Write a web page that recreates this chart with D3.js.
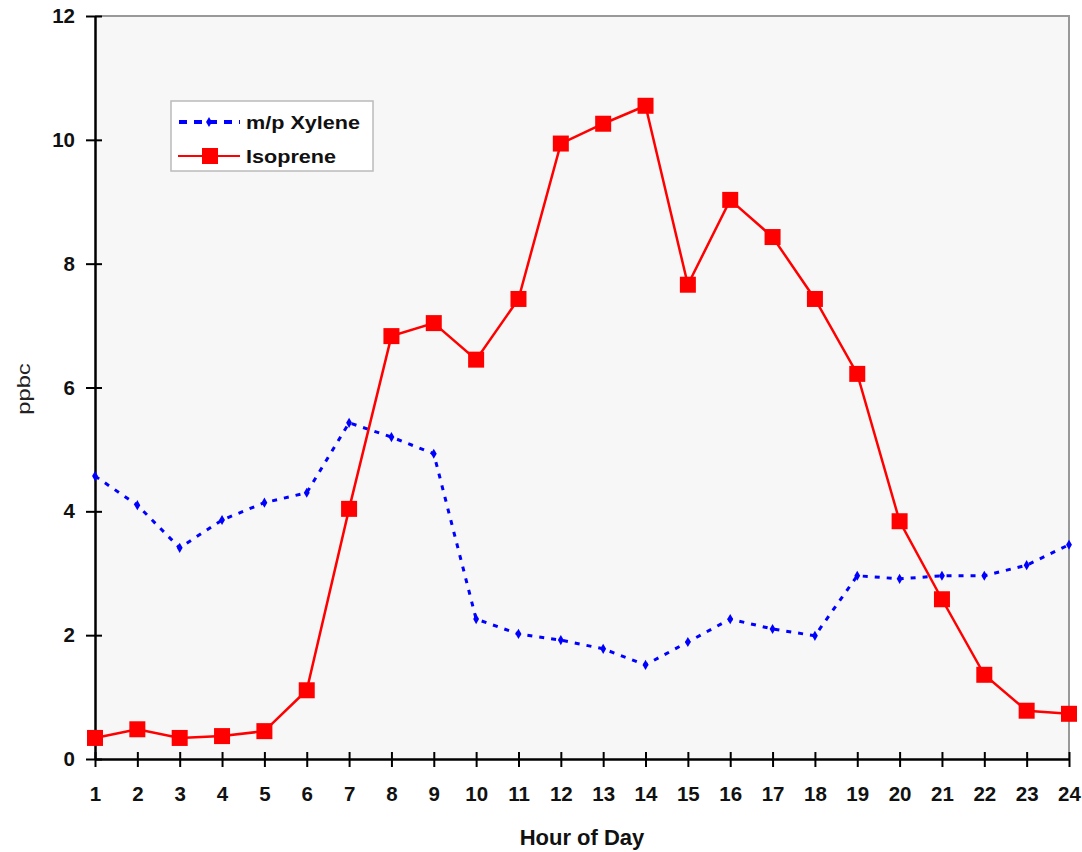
<!DOCTYPE html>
<html><head><meta charset="utf-8">
<script src="https://cdn.jsdelivr.net/npm/d3@7"></script>
<style>body{margin:0;background:#fff;}svg{display:block;font-family:"Liberation Sans",Arial,sans-serif;}</style>
</head><body>
<svg id="c" width="1082" height="852"></svg>
<script>
const hours = [1,2,3,4,5,6,7,8,9,10,11,12,13,14,15,16,17,18,19,20,21,22,23,24];
const xylene = [4.57,4.10,3.41,3.86,4.14,4.30,5.43,5.20,4.93,2.26,2.02,1.92,1.78,1.52,1.89,2.26,2.10,1.99,2.96,2.91,2.96,2.96,3.13,3.46];
const isoprene = [0.34,0.48,0.34,0.37,0.45,1.11,4.04,6.83,7.04,6.45,7.43,9.94,10.26,10.55,7.66,9.03,8.43,7.43,6.22,3.84,2.58,1.36,0.78,0.73];
const yTicks = [0,2,4,6,8,10,12];
const seriesNames = ["m/p Xylene","Isoprene"];

const svg = d3.select("#c");
const L=95, R=1069, T=16, B=759;
const x = d3.scaleLinear().domain([1,24]).range([L,R]);
const y = d3.scaleLinear().domain([0,12]).range([B,T]);

// plot background
svg.append("rect").attr("x",L).attr("y",T).attr("width",R-L).attr("height",B-T).attr("fill","#f7f7f7");
// top and right border
svg.append("path").attr("d",`M${L},${T}H${R}V${B}`).attr("fill","none").attr("stroke","#999").attr("stroke-width",2);

// y axis
const yAx = svg.append("g").attr("transform",`translate(${L},0)`)
  .call(d3.axisLeft(y).tickValues(yTicks).tickSize(0).tickPadding(20));
yAx.select(".domain").attr("stroke","#000").attr("stroke-width",2.5);
yAx.selectAll(".tick").append("line").attr("x1",-9).attr("x2",7).attr("stroke","#000").attr("stroke-width",2);
yAx.selectAll("text").attr("font-size",20.5).attr("font-weight","bold").attr("fill","#111").attr("font-family","Liberation Sans, Arial");

// x axis
const xAx = svg.append("g").attr("transform",`translate(0,${B})`)
  .call(d3.axisBottom(x).tickValues(hours).tickSize(0).tickPadding(27).tickFormat(d3.format("d")));
xAx.select(".domain").attr("stroke","#000").attr("stroke-width",2.5);
xAx.selectAll(".tick").append("line").attr("y1",-7).attr("y2",8).attr("stroke","#000").attr("stroke-width",2);
xAx.selectAll("text").attr("font-size",20.5).attr("font-weight","bold").attr("fill","#111").attr("font-family","Liberation Sans, Arial");

// axis titles
svg.append("text").attr("x",582).attr("y",845).attr("text-anchor","middle")
  .attr("font-size",22).attr("font-weight","bold").attr("fill","#111").text("Hour of Day");
svg.append("text").attr("transform","translate(30,389) rotate(-90) scale(1.25,1)").attr("text-anchor","middle")
  .attr("font-size",19).attr("fill","#222").text("ppbc");

const line = d3.line().x((d,i)=>x(hours[i])).y(d=>y(d));

// xylene
svg.append("path").datum(xylene).attr("d",line).attr("fill","none")
  .attr("stroke","#0000ff").attr("stroke-width",3).attr("stroke-dasharray","5,7");
svg.append("g").selectAll("path").data(xylene).join("path")
  .attr("transform",(d,i)=>`translate(${x(hours[i])},${y(d)})`)
  .attr("d",d3.symbol().type(d3.symbolDiamond).size(30)).attr("fill","#0000ff");

// isoprene
svg.append("path").datum(isoprene).attr("d",line).attr("fill","none")
  .attr("stroke","#ff0000").attr("stroke-width",2.5);
svg.append("g").selectAll("rect").data(isoprene).join("rect")
  .attr("x",(d,i)=>x(hours[i])-8).attr("y",d=>y(d)-8).attr("width",16).attr("height",16).attr("fill","#ff0000");

// legend
const lg = svg.append("g");
lg.append("rect").attr("x",171).attr("y",101).attr("width",202).attr("height",70)
  .attr("fill","#fff").attr("stroke","#bbb").attr("stroke-width",1.5);
lg.append("line").attr("x1",179).attr("x2",240).attr("y1",122).attr("y2",122)
  .attr("stroke","#0000ff").attr("stroke-width",4).attr("stroke-dasharray","8,7");
lg.append("path").attr("transform","translate(209,122)").attr("d",d3.symbol().type(d3.symbolDiamond).size(30)).attr("fill","#0000ff");
lg.append("line").attr("x1",178).attr("x2",240).attr("y1",156).attr("y2",156)
  .attr("stroke","#ff0000").attr("stroke-width",2);
lg.append("rect").attr("x",202).attr("y",148).attr("width",16).attr("height",16).attr("fill","#ff0000");
lg.selectAll("text.lt").data(seriesNames).join("text").attr("class","lt")
  .attr("transform",(d,i)=>`translate(246,${129+i*34}) scale(1.2,1)`)
  .attr("font-size",18).attr("font-weight","bold").attr("fill","#111").text(d=>d);
</script>
</body></html>
